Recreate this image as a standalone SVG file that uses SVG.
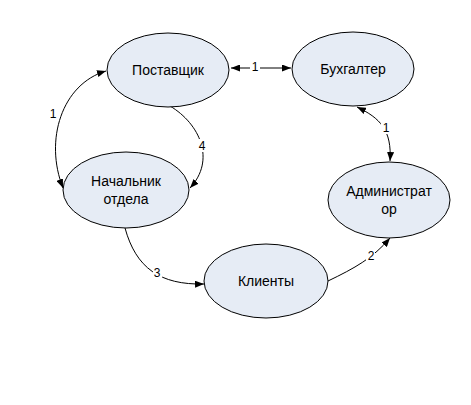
<svg xmlns="http://www.w3.org/2000/svg" width="471" height="405" viewBox="0 0 471 405">
<style>
.node ellipse{fill:#e6ecf5;stroke:#000;stroke-width:1}
.node text{font-family:"Liberation Sans",Arial,sans-serif;font-size:14px;fill:#000;text-anchor:middle}
.edge{fill:none;stroke:#000;stroke-width:1}
.lbl rect{fill:#fff}
.lbl text{font-family:"Liberation Sans",Arial,sans-serif;font-size:12px;fill:#000;text-anchor:middle}
</style>
<defs>
<marker id="ah" viewBox="0 0 10 10" refX="10" refY="5" markerWidth="9" markerHeight="7" markerUnits="userSpaceOnUse" orient="auto-start-reverse" preserveAspectRatio="none">
<path d="M0,0 L10,5 L0,10 z" fill="#000"/>
</marker>
</defs>
<rect width="471" height="405" fill="#fff"/>
<g id="connectors">
<path class="edge" d="M231,68 L291,68" marker-start="url(#ah)" marker-end="url(#ah)"/>
<path class="edge" d="M357,107 C380,118 392,130 390,161" marker-start="url(#ah)" marker-end="url(#ah)"/>
<path class="edge" d="M106,71 C62,84 44,140 63,188" marker-start="url(#ah)" marker-end="url(#ah)"/>
<path class="edge" d="M170,106 C200,124 216,160 190,188" marker-end="url(#ah)"/>
<path class="edge" d="M125,228 C136,268 160,285 204,284" marker-end="url(#ah)"/>
<path class="edge" d="M328,281 C355,268 373,258 390,238" marker-end="url(#ah)"/>
<g class="lbl"><rect x="250" y="60" width="10" height="13"/><text x="255" y="71">1</text></g>
<g class="lbl"><rect x="381" y="121" width="9" height="13"/><text x="386" y="132">1</text></g>
<g class="lbl"><rect x="48" y="107" width="9" height="13"/><text x="53" y="118">1</text></g>
<g class="lbl"><rect x="198" y="139" width="9" height="13"/><text x="202" y="150">4</text></g>
<g class="lbl"><rect x="153" y="266" width="9" height="13"/><text x="157" y="277">3</text></g>
<g class="lbl"><rect x="366" y="249" width="9" height="13"/><text x="371" y="260">2</text></g>
</g>
<g id="n-postavshchik" class="node"><ellipse cx="168" cy="70" rx="61" ry="37"/><text x="168" y="75">Поставщик</text></g>
<g id="n-bukhgalter" class="node"><ellipse cx="353" cy="69" rx="61" ry="37"/><text x="353" y="74">Бухгалтер</text></g>
<g id="n-nachalnik" class="node"><ellipse cx="126" cy="190" rx="63" ry="38"/><text x="126" y="186">Начальник</text><text x="126" y="204">отдела</text></g>
<g id="n-admin" class="node"><ellipse cx="389" cy="200" rx="61" ry="38"/><text x="389" y="196">Администрат</text><text x="389" y="214">ор</text></g>
<g id="n-klienty" class="node"><ellipse cx="266" cy="281" rx="62" ry="37"/><text x="266" y="286">Клиенты</text></g>
</svg>
